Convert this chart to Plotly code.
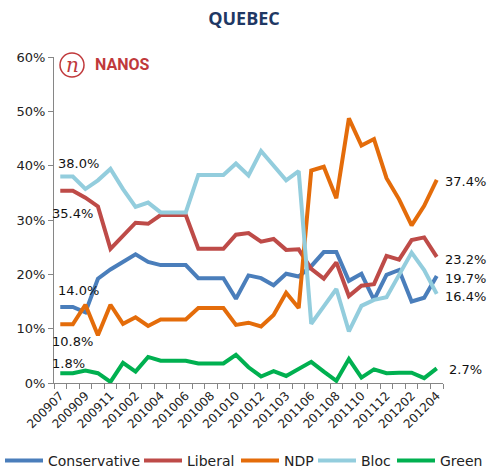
import plotly.graph_objects as go

periods = ["200907", "200908", "200909", "200910", "200911", "200912", "201002", "201003",
           "201004", "201005", "201006", "201007", "201008", "201009", "201010", "201011",
           "201012", "201101", "201103", "201104", "201106", "201107", "201108", "201109",
           "201110", "201111", "201112", "201201", "201202", "201203", "201204"]
tick_labels = ["200907", "200909", "200911", "201002", "201004", "201006", "201008", "201010",
               "201012", "201103", "201106", "201108", "201110", "201112", "201202", "201204"]

conservative = [14.0, 14.0, 13.0, 19.2, 20.9, 22.2, 23.7, 22.3, 21.7, 21.7, 21.7, 19.3, 19.3, 19.3,
                15.5, 19.8, 19.3, 18.0, 20.1, 19.6, 21.5, 24.1, 24.1, 18.8, 20.1, 15.3, 19.9,
                20.8, 15.0, 15.7, 19.7]
liberal = [35.4, 35.4, 34.1, 32.5, 24.7, 27.1, 29.5, 29.3, 30.9, 30.9, 30.9, 24.7, 24.7, 24.7,
           27.3, 27.6, 26.0, 26.5, 24.5, 24.6, 21.0, 19.2, 22.2, 16.0, 17.9, 18.2, 23.4, 22.7,
           26.3, 26.8, 23.2]
ndp = [10.8, 10.8, 14.4, 8.8, 14.4, 10.9, 12.1, 10.5, 11.7, 11.7, 11.7, 13.8, 13.8, 13.8, 10.7,
       11.1, 10.4, 12.5, 16.6, 13.8, 39.1, 39.8, 34.0, 48.7, 43.7, 44.9, 37.7, 33.8, 29.0, 32.6,
       37.4]
bloc = [38.0, 38.0, 35.7, 37.3, 39.4, 35.7, 32.4, 33.2, 31.4, 31.4, 31.4, 38.3, 38.3, 38.3, 40.4,
        38.2, 42.7, 40.1, 37.3, 39.0, 10.9, 14.1, 17.3, 9.5, 14.2, 15.3, 15.8, 19.9, 24.0, 20.8,
        16.4]
green = [1.8, 1.8, 2.3, 1.8, 0.2, 3.7, 2.1, 4.8, 4.1, 4.1, 4.1, 3.6, 3.6, 3.6, 5.2, 2.9, 1.2, 2.2,
         1.3, 2.6, 3.9, 2.1, 0.4, 4.4, 1.0, 2.5, 1.8, 1.9, 1.9, 0.9, 2.7]

series = [("Conservative", conservative, "#4A7EBB"),
          ("Liberal", liberal, "#BE4B48"),
          ("NDP", ndp, "#E46C0A"),
          ("Bloc", bloc, "#93CDDD"),
          ("Green", green, "#00B050")]

# left edge (px) of each legend entry, laid out in one row like the reference
legend_left_px = [0, 139, 236, 313, 392]

fig = go.Figure()
legend_layout = {}
for k, (name, vals, col) in enumerate(series):
    key = "legend" if k == 0 else f"legend{k + 1}"
    fig.add_trace(go.Scatter(x=periods, y=vals, name=name, mode="lines",
                             line=dict(color=col, width=4), legend=key))
    legend_layout[key] = dict(orientation="h", x=legend_left_px[k] / 488, xanchor="left",
                              xref="container", y=(470 - 461) / 470, yanchor="middle",
                              yref="container", bgcolor="rgba(0,0,0,0)",
                              font=dict(size=14, color="#222222"), itemwidth=38)

ticktext = [p if p in tick_labels else "" for p in periods]

fig.update_layout(
    width=488, height=470,
    margin=dict(l=54, r=45, t=57, b=87, autoexpand=False),
    paper_bgcolor="white", plot_bgcolor="white",
    font=dict(family="DejaVu Sans", color="#222222", size=13),
    title=dict(text="<b>QUEBEC</b>", x=0.5, xanchor="center", y=0.96, yanchor="middle",
               font=dict(family="Open Sans", size=18, color="#1F3864")),
    showlegend=True,
    xaxis=dict(type="category", tickmode="array", tickvals=periods, ticktext=ticktext,
               tickangle=-45, tickson="boundaries", ticks="outside", ticklen=5,
               tickcolor="#868686", showline=True, linecolor="#868686", linewidth=1,
               showgrid=False, tickfont=dict(size=12), range=[-0.5, 30.5], automargin=False),
    yaxis=dict(range=[0, 60], dtick=10, ticksuffix="%", ticks="outside", ticklen=5,
               tickcolor="#868686", showline=True, linecolor="#868686", linewidth=1,
               showgrid=False, zeroline=False, tickfont=dict(size=13), automargin=False),
    **legend_layout,
)

def ann(x, y, text, xanchor="left"):
    fig.add_annotation(x=x, y=y, xref="paper", yref="paper", text=text, showarrow=False,
                       xanchor=xanchor, yanchor="middle", font=dict(size=13, color="#111111"))

# start labels
ann(0.005, (470 - 87 - 163) / 326, f"{bloc[0]:.1f}%")
ann(-0.01, (470 - 87 - 213) / 326, f"{liberal[0]:.1f}%")
ann(0.005, (470 - 87 - 290) / 326, f"{conservative[0]:.1f}%")
ann(-0.01, (470 - 87 - 341) / 326, f"{ndp[0]:.1f}%")
ann(-0.01, (470 - 87 - 363) / 326, f"{green[0]:.1f}%")
# end labels
ann(1.0, (470 - 87 - 181) / 326, f"{ndp[-1]:.1f}%")
ann(1.0, (470 - 87 - 259) / 326, f"{liberal[-1]:.1f}%")
ann(1.0, (470 - 87 - 278) / 326, f"{conservative[-1]:.1f}%")
ann(1.0, (470 - 87 - 296) / 326, f"{bloc[-1]:.1f}%")
ann(1.01, (470 - 87 - 369) / 326, f"{green[-1]:.1f}%")

# NANOS logo
fig.add_shape(type="circle", xref="paper", yref="paper",
              x0=(60 - 54) / 389, x1=(84 - 54) / 389,
              y0=(470 - 87 - 77) / 326, y1=(470 - 87 - 53) / 326,
              line=dict(color="#C0393B", width=1.5))
fig.add_annotation(x=(72 - 54) / 389, y=(470 - 87 - 65) / 326, xref="paper", yref="paper",
                   text="<i>n</i>", showarrow=False, xanchor="center", yanchor="middle",
                   font=dict(family="DejaVu Serif", size=20, color="#C0393B"))
fig.add_annotation(x=(93 - 54) / 389, y=(470 - 87 - 65) / 326, xref="paper", yref="paper",
                   text="<b>NANOS</b>", showarrow=False, xanchor="left", yanchor="middle",
                   font=dict(family="Liberation Sans Narrow, Roboto", size=16, color="#C0393B"))

fig.write_html("out.html", config={"displayModeBar": False},
               post_script="document.body.style.margin='0';")
